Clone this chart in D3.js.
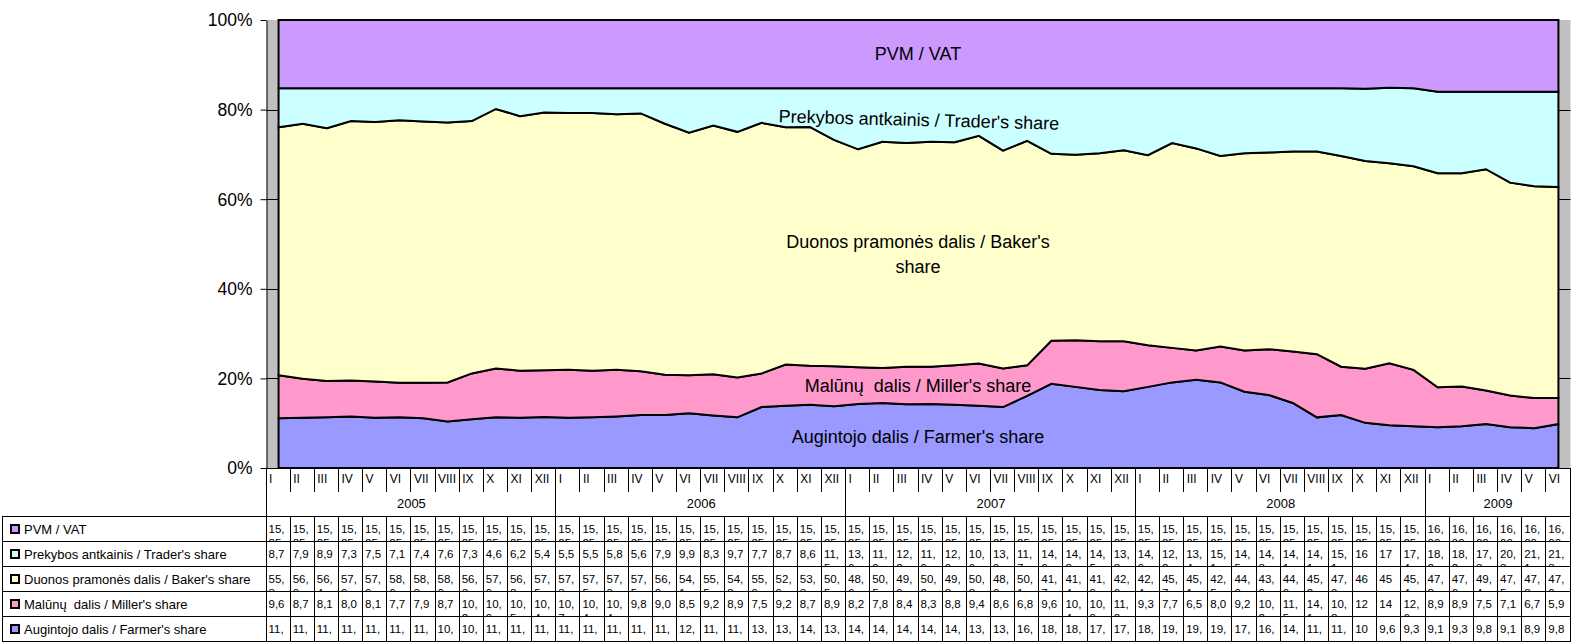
<!DOCTYPE html>
<html>
<head>
<meta charset="utf-8">
<script src="https://cdn.jsdelivr.net/npm/d3@7"></script>
<style>
  body { margin: 0; background: #fff; }
  text { font-family: "Liberation Sans", Arial, sans-serif; fill: #000; white-space: pre; }
</style>
</head>
<body>
<div id="chart"></div>
<script>
"use strict";

const width = 1571,
      height = 642;

// categories
const romans = ["I", "II", "III", "IV", "V", "VI", "VII", "VIII", "IX", "X", "XI", "XII"];
const years = ["2005", "2006", "2007", "2008", "2009"];
const monthsInYear = [12, 12, 12, 12, 6];

// shares, % of bread price (2005 I ... 2009 VI)
const vat = [
  15.25, 15.25, 15.25, 15.25, 15.25, 15.25, 15.25, 15.25, 15.25, 15.25, 15.25, 15.25,
  15.25, 15.25, 15.25, 15.25, 15.25, 15.25, 15.25, 15.25, 15.25, 15.25, 15.25, 15.25,
  15.25, 15.25, 15.25, 15.25, 15.25, 15.25, 15.25, 15.25, 15.25, 15.25, 15.25, 15.25,
  15.25, 15.25, 15.25, 15.25, 15.25, 15.25, 15.25, 15.25, 15.25, 15.25, 15.25, 15.25,
  16.0, 16.0, 16.0, 16.0, 16.0, 16.0
];
const trader = [
  8.7, 7.9, 8.9, 7.3, 7.5, 7.1, 7.4, 7.6, 7.3, 4.6, 6.2, 5.4,
  5.5, 5.5, 5.8, 5.6, 7.9, 9.9, 8.3, 9.7, 7.7, 8.7, 8.6, 11.5,
  13.6, 11.9, 12.2, 11.9, 12.0, 10.6, 13.9, 11.7, 14.6, 14.8, 14.5, 13.8,
  14.9, 12.2, 13.4, 15.1, 14.5, 14.3, 14.1, 14.1, 15.1, 16, 17, 17.4,
  18.2, 18.2, 17.3, 20.3, 21.1, 21.3
];
const baker = [
  55.3, 56.9, 56.4, 57.9, 57.9, 58.6, 58.3, 58.0, 56.3, 57.9, 56.8, 57.5,
  57.3, 57.5, 57.0, 57.5, 56.0, 54.1, 55.5, 54.8, 55.9, 52.9, 53.3, 50.5,
  48.6, 50.5, 49.9, 50.2, 49.8, 50.8, 48.6, 50.1, 41.7, 41.4, 41.9, 42.6,
  42.4, 45.7, 45.1, 42.5, 44.0, 43.9, 44.6, 45.2, 47.0, 46, 45, 45.4,
  47.8, 47.6, 49.4, 47.5, 47.3, 47.0
];
const miller = [
  9.6, 8.7, 8.1, 8.0, 8.1, 7.7, 7.9, 8.7, 10.2, 10.9, 10.5, 10.4,
  10.7, 10.4, 10.4, 9.8, 9.0, 8.5, 9.2, 8.9, 7.5, 9.2, 8.7, 8.9,
  8.2, 7.8, 8.4, 8.3, 8.8, 9.4, 8.6, 6.8, 9.6, 10.4, 10.9, 11.2,
  9.3, 7.7, 6.5, 8.0, 9.2, 10.2, 11.5, 14.1, 10.8, 12, 14, 12.6,
  8.9, 8.9, 7.5, 7.1, 6.7, 5.9
];
const farmer = [
  11.1, 11.2, 11.3, 11.5, 11.2, 11.3, 11.1, 10.4, 10.9, 11.3, 11.2, 11.4,
  11.2, 11.3, 11.5, 11.8, 11.8, 12.2, 11.7, 11.3, 13.6, 13.9, 14.1, 13.8,
  14.3, 14.5, 14.2, 14.3, 14.1, 13.9, 13.6, 16.1, 18.8, 18.1, 17.4, 17.1,
  18.1, 19.1, 19.7, 19.1, 17.0, 16.3, 14.5, 11.3, 11.8, 10, 9.6, 9.3,
  9.1, 9.3, 9.8, 9.1, 8.9, 9.8
];
// months whose table cell holds a whole number (2008 X, XI)
const wholeCells = { trader: [45, 46], baker: [45, 46], miller: [45, 46], farmer: [45] };

const series = [
  { key: "farmer", name: "Augintojo dalis / Farmer's share", color: "#9999FF", values: farmer, dec: 1 },
  { key: "miller", name: "Malūnų  dalis / Miller's share", color: "#FF99CC", values: miller, dec: 1 },
  { key: "baker", name: "Duonos pramonės dalis / Baker's share", color: "#FFFFCC", values: baker, dec: 1 },
  { key: "trader", name: "Prekybos antkainis / Trader's share", color: "#CCFFFF", values: trader, dec: 1 },
  { key: "vat", name: "PVM / VAT", color: "#CC99FF", values: vat, dec: 2 }
];

// one row per month for d3.stack
const n = farmer.length;
const rows = d3.range(n).map(i => {
  const r = {};
  series.forEach(s => { r[s.key] = s.values[i]; });
  return r;
});

const svg = d3.select("#chart")
  .append("svg")
  .attr("width", width)
  .attr("height", height);

const plotLeft = 266.5, plotRight = 1570.5, plotTop = 20, plotBottom = 468;

const x = d3.scaleBand()
  .domain(d3.range(n))
  .range([plotLeft, plotRight]);
const bw = x.bandwidth();
const edge = i => (i < n ? x(i) : plotRight);

const y = d3.scaleLinear()
  .domain([0, 1])
  .range([plotBottom, plotTop]);

// plot background (walls) and hidden gridlines
svg.append("rect")
  .attr("x", plotLeft).attr("y", plotTop)
  .attr("width", plotRight - plotLeft).attr("height", plotBottom - plotTop)
  .attr("fill", "#C0C0C0");

svg.append("g")
  .selectAll("line")
  .data([0.2, 0.4, 0.6, 0.8])
  .join("line")
    .attr("x1", plotLeft).attr("x2", plotRight)
    .attr("y1", d => Math.round(y(d)) + 0.5).attr("y2", d => Math.round(y(d)) + 0.5)
    .attr("stroke", "#000");

// stacked areas
const stack = d3.stack()
  .keys(series.map(s => s.key))
  .offset(d3.stackOffsetExpand);
const stacked = stack(rows);

const area = d3.area()
  .x((d, i) => x(i) + bw / 2)
  .y0(d => y(d[0]))
  .y1(d => y(d[1]));

svg.append("g")
  .selectAll("path")
  .data(stacked)
  .join("path")
    .attr("d", area)
    .attr("fill", (d, i) => series[i].color)
    .attr("stroke", "#000")
    .attr("stroke-width", 2)
    .attr("stroke-linejoin", "miter");

// labels inside the areas
const inner = svg.append("g")
  .attr("font-size", 18)
  .attr("text-anchor", "middle");

inner.append("text").attr("x", 918).attr("y", 59.5).text("PVM / VAT");
inner.append("text").attr("x", 919).attr("y", 126)
  .attr("transform", "rotate(1.5 919 120)")
  .text("Prekybos antkainis / Trader's share");
inner.append("text").attr("x", 918).attr("y", 248).text("Duonos pramonės dalis / Baker's");
inner.append("text").attr("x", 918).attr("y", 273).text("share");
inner.append("text").attr("x", 918).attr("y", 391.5).text("Malūnų\u00a0 dalis / Miller's share");
inner.append("text").attr("x", 918).attr("y", 442.5).text("Augintojo dalis / Farmer's share");

// value axis
const yAxis = svg.append("g")
  .attr("transform", `translate(${plotLeft},0)`)
  .call(d3.axisLeft(y)
    .tickValues([0, 0.2, 0.4, 0.6, 0.8, 1])
    .tickFormat(d3.format(".0%"))
    .tickSize(6)
    .tickSizeOuter(0)
    .tickPadding(8));
yAxis.selectAll("text")
  .attr("font-size", 17.5)
  .attr("font-family", "'Liberation Sans', Arial, sans-serif")
  .attr("dy", "0.34em");
yAxis.selectAll("line, path").attr("stroke", "#000");

svg.append("line")
  .attr("x1", plotLeft).attr("x2", plotRight)
  .attr("y1", plotBottom + 0.5).attr("y2", plotBottom + 0.5)
  .attr("stroke", "#000");

// category header: months and years
const monthLabels = [];
const yearSpans = [];
let start = 0;
years.forEach((yr, k) => {
  yearSpans.push({ year: yr, from: start, to: start + monthsInYear[k] });
  for (let m = 0; m < monthsInYear[k]; m++) monthLabels.push(romans[m]);
  start += monthsInYear[k];
});

const header = svg.append("g");

header.selectAll("line.month")
  .data(d3.range(n + 1))
  .join("line")
    .attr("class", "month")
    .attr("x1", i => Math.round(edge(i)) - 0.5).attr("x2", i => Math.round(edge(i)) - 0.5)
    .attr("y1", plotBottom).attr("y2", 492)
    .attr("stroke", "#000");

header.selectAll("line.year")
  .data(yearSpans.map(d => d.from).concat([n]))
  .join("line")
    .attr("class", "year")
    .attr("x1", i => Math.round(edge(i)) - 0.5).attr("x2", i => Math.round(edge(i)) - 0.5)
    .attr("y1", plotBottom).attr("y2", 516)
    .attr("stroke", "#000");

header.selectAll("text.month")
  .data(monthLabels)
  .join("text")
    .attr("class", "month")
    .attr("x", (d, i) => x(i) + 2.5)
    .attr("y", 483)
    .attr("font-size", 12)
    .text(d => d);

header.selectAll("text.year")
  .data(yearSpans)
  .join("text")
    .attr("class", "year")
    .attr("x", d => (edge(d.from) + edge(d.to)) / 2)
    .attr("y", 508)
    .attr("font-size", 13)
    .attr("text-anchor", "middle")
    .text(d => d.year);

// data table
const tableRows = series.slice().reverse();
const rowH = 25, tableTop = 516;

// narrow cells wrap after the comma, as in the spreadsheet
function cellText(s, i) {
  const v = s.values[i];
  if ((wholeCells[s.key] || []).includes(i)) return [String(v)];
  const [ip, dp] = d3.format(`.${s.dec}f`)(v).split(".");
  if (ip.length === 1 && s.dec === 1) return [ip + "," + dp];
  return [ip + ",", dp];
}

const table = svg.append("g");

table.selectAll("line.h")
  .data(d3.range(tableRows.length + 1))
  .join("line")
    .attr("class", "h")
    .attr("x1", 2).attr("x2", width)
    .attr("y1", r => tableTop + r * rowH + 0.5).attr("y2", r => tableTop + r * rowH + 0.5)
    .attr("stroke", "#000");

table.append("line")
  .attr("x1", 2.5).attr("x2", 2.5)
  .attr("y1", tableTop).attr("y2", height)
  .attr("stroke", "#000");

table.selectAll("line.v")
  .data(d3.range(n + 1))
  .join("line")
    .attr("class", "v")
    .attr("x1", i => Math.round(edge(i)) - 0.5).attr("x2", i => Math.round(edge(i)) - 0.5)
    .attr("y1", tableTop).attr("y2", height)
    .attr("stroke", "#000");

const defs = svg.append("defs");

tableRows.forEach((s, r) => {
  const rowTop = tableTop + r * rowH;
  const lastRow = r === tableRows.length - 1;

  table.append("rect")
    .attr("x", 11).attr("y", rowTop + 9)
    .attr("width", 8).attr("height", 8)
    .attr("fill", s.color)
    .attr("stroke", "#000")
    .attr("stroke-width", 2);

  table.append("text")
    .attr("x", 24).attr("y", rowTop + 18)
    .attr("font-size", 13)
    .text(s.name);

  defs.append("clipPath")
    .attr("id", "row-clip-" + r)
    .append("rect")
      .attr("x", plotLeft).attr("y", rowTop + 1)
      .attr("width", width - plotLeft).attr("height", rowH - 1);

  const cells = table.append("g")
    .attr("clip-path", `url(#row-clip-${r})`)
    .attr("font-size", 11.5);

  d3.range(n).forEach(i => {
    const lines = cellText(s, i);
    // the bottom row's wrapped remainder falls below the picture
    const shown = lastRow ? lines.slice(0, 1) : lines;
    shown.forEach((ln, j) => {
      cells.append("text")
        .attr("x", x(i) + 2)
        .attr("y", rowTop + 17.3 + j * 13.5)
        .text(ln);
    });
  });
});
</script>
</body>
</html>
